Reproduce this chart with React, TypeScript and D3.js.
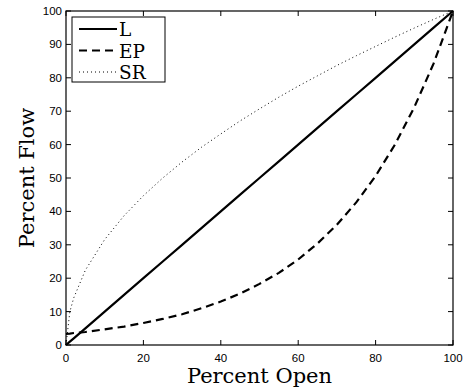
import React from 'react';
import * as d3 from 'd3';

// percent open samples
const openPct = [0, 1, 2, 5, 10, 15, 20, 25, 30, 35, 40, 45, 50, 55, 60, 65, 70, 75, 80, 85, 90, 95, 100];
// linear characteristic
const linearFlow = [0, 1, 2, 5, 10, 15, 20, 25, 30, 35, 40, 45, 50, 55, 60, 65, 70, 75, 80, 85, 90, 95, 100];
// equal percentage characteristic
const epFlow = [3.3, 3.4, 3.6, 3.9, 4.7, 5.5, 6.6, 7.8, 9.2, 11, 13, 15.4, 18.3, 21.6, 25.6, 30.4, 36, 42.7, 50.6, 60, 71.2, 84.3, 100];
// square root characteristic
const srFlow = [0, 10, 14.1, 22.4, 31.6, 38.7, 44.7, 50, 54.8, 59.2, 63.2, 67.1, 70.7, 74.2, 77.5, 80.6, 83.7, 86.6, 89.4, 92.2, 94.9, 97.5, 100];

const xTicks = [0, 20, 40, 60, 80, 100];
const yTicks = [0, 10, 20, 30, 40, 50, 60, 70, 80, 90, 100];
const legendLabels = ['L', 'EP', 'SR'];

const W = 466;
const H = 391;
const m = { left: 66, right: 13, top: 11, bottom: 46 };

const App = () => {
  const x = d3.scaleLinear().domain([0, 100]).range([m.left, W - m.right]);
  const y = d3.scaleLinear().domain([0, 100]).range([H - m.bottom, m.top]);

  const line = (vals: number[]) =>
    d3.line<number>()
      .x((d, i) => x(openPct[i]))
      .y(d => y(d))(vals) || '';

  const styles = [
    { d: line(linearFlow), dash: undefined, w: 2.2 },
    { d: line(epFlow), dash: '8,5', w: 2.2 },
    { d: line(srFlow), dash: '1,3', w: 1 },
  ];

  const tickFont = { fontFamily: 'Liberation Sans, Arial, sans-serif', fontSize: 11.5 };
  const labelFont = { fontFamily: 'DejaVu Serif, serif', fontSize: 21 };
  const legendFont = { fontFamily: 'DejaVu Serif, serif', fontSize: 18.5 };

  const x0 = m.left, x1 = W - m.right, y0 = H - m.bottom, y1 = m.top;
  const tl = 5;

  return (
    <svg width={W} height={H} style={{ position: 'absolute', left: 0, top: 0 }}>
      <rect width={W} height={H} fill="#fff" />
      {styles.map((s, i) => (
        <path key={i} d={s.d} fill="none" stroke="#000" strokeWidth={s.w} strokeDasharray={s.dash} />
      ))}
      <rect x={x0} y={y1} width={x1 - x0} height={y0 - y1} fill="none" stroke="#000" strokeWidth={1.2} />
      {xTicks.map(t => (
        <g key={'x' + t}>
          <line x1={x(t)} x2={x(t)} y1={y0} y2={y0 - tl} stroke="#000" />
          <line x1={x(t)} x2={x(t)} y1={y1} y2={y1 + tl} stroke="#000" />
          <text x={x(t)} y={y0 + 17} textAnchor="middle" {...tickFont}>{t}</text>
        </g>
      ))}
      {yTicks.map(t => (
        <g key={'y' + t}>
          <line x1={x0} x2={x0 + tl} y1={y(t)} y2={y(t)} stroke="#000" />
          <line x1={x1} x2={x1 - tl} y1={y(t)} y2={y(t)} stroke="#000" />
          <text x={x0 - 4} y={y(t) + 4} textAnchor="end" {...tickFont}>{t}</text>
        </g>
      ))}
      <text x={(x0 + x1) / 2} y={383} textAnchor="middle" {...labelFont}>Percent Open</text>
      <text transform={`translate(34,${(y0 + y1) / 2}) rotate(-90)`} textAnchor="middle" {...labelFont}>Percent Flow</text>
      <g>
        <rect x={72} y={17} width={93} height={65} fill="#fff" stroke="#000" strokeWidth={1} />
        {legendLabels.map((lab, i) => {
          const ly = 29 + i * 21.5;
          const s = styles[i];
          return (
            <g key={lab}>
              <line x1={79} x2={117} y1={ly} y2={ly} stroke="#000" strokeWidth={s.w} strokeDasharray={s.dash} />
              <text x={119} y={ly + 7} {...legendFont}>{lab}</text>
            </g>
          );
        })}
      </g>
    </svg>
  );
};

export default App;
